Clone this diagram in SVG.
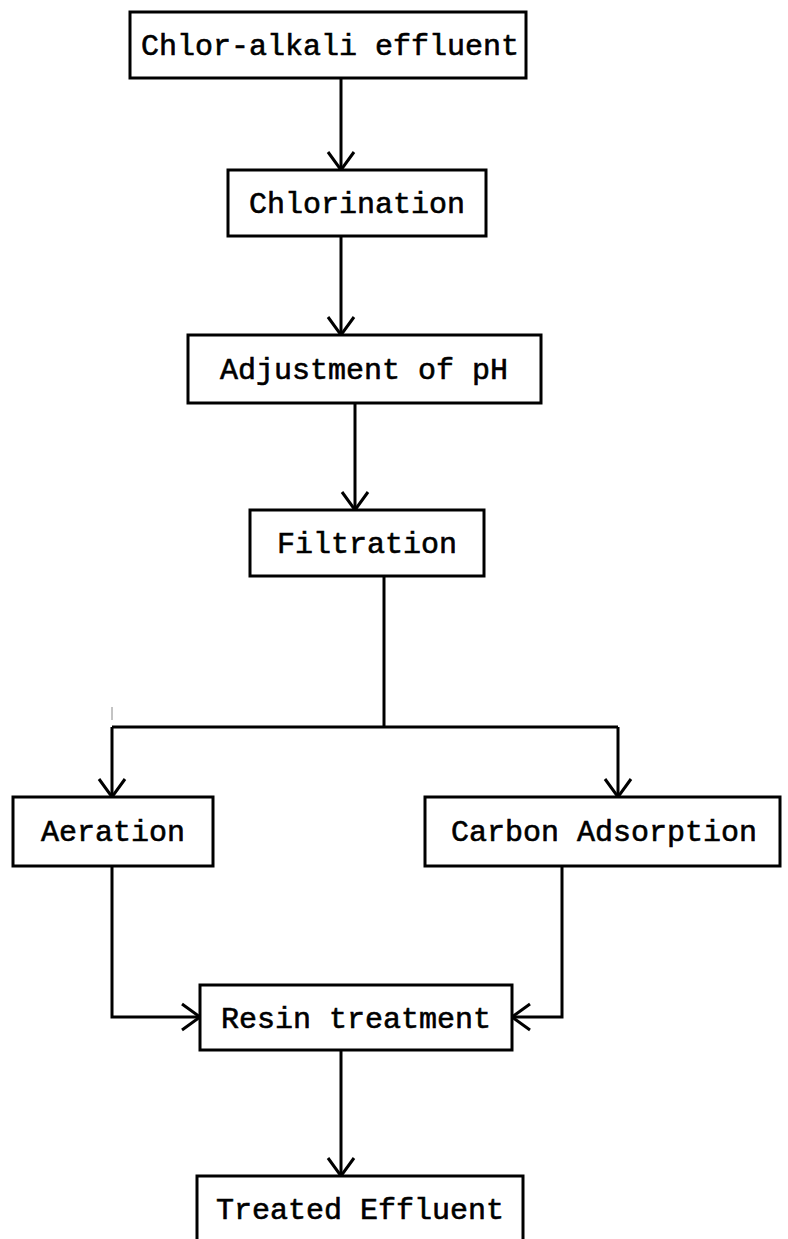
<svg xmlns="http://www.w3.org/2000/svg" width="788" height="1239" viewBox="0 0 788 1239">
<style>
.box{fill:#fff;stroke:#000;stroke-width:3}
.lbl{font-family:"Liberation Mono","Courier New",monospace;font-size:30px;fill:#000;text-anchor:middle;stroke:#000;stroke-width:0.6}
.con{fill:none;stroke:#000;stroke-width:3}
</style>
<defs>
<marker id="ah" viewBox="-22 -16 26 32" refX="0" refY="0" markerWidth="26" markerHeight="32" orient="auto" markerUnits="userSpaceOnUse">
<path d="M-18,-13 L0,0 L-18,13" fill="none" stroke="#000" stroke-width="3"/>
</marker>
</defs>
<rect width="788" height="1239" fill="#fff"/>
<g id="connectors">
<path class="con" d="M341,78 V170" marker-end="url(#ah)"/>
<path class="con" d="M341,236 V335" marker-end="url(#ah)"/>
<path class="con" d="M355,403 V510" marker-end="url(#ah)"/>
<path class="con" d="M384,576 V727"/>
<path class="con" d="M112,727 H618"/>
<path class="con" d="M112,727 V797" marker-end="url(#ah)"/>
<path class="con" d="M618,727 V797" marker-end="url(#ah)"/>
<path class="con" d="M112,866 V1017 H200" marker-end="url(#ah)"/>
<path class="con" d="M562,866 V1017 H512" marker-end="url(#ah)"/>
<path class="con" d="M341,1050 V1176" marker-end="url(#ah)"/>
<path d="M112,707 V720" stroke="#888" stroke-width="1"/>
</g>
<g id="n1"><rect class="box" x="130" y="12" width="396" height="66"/><text class="lbl" x="330" y="55">Chlor-alkali effluent</text></g>
<g id="n2"><rect class="box" x="228" y="170" width="258" height="66"/><text class="lbl" x="357" y="213">Chlorination</text></g>
<g id="n3"><rect class="box" x="188" y="335" width="353" height="68"/><text class="lbl" x="364" y="379">Adjustment of pH</text></g>
<g id="n4"><rect class="box" x="250" y="510" width="234" height="66"/><text class="lbl" x="367" y="553">Filtration</text></g>
<g id="n5"><rect class="box" x="13" y="797" width="200" height="69"/><text class="lbl" x="113" y="841">Aeration</text></g>
<g id="n6"><rect class="box" x="425" y="797" width="355" height="69"/><text class="lbl" x="604" y="841">Carbon Adsorption</text></g>
<g id="n7"><rect class="box" x="200" y="985" width="312" height="65"/><text class="lbl" x="356" y="1028">Resin treatment</text></g>
<g id="n8"><rect class="box" x="197" y="1176" width="326" height="70"/><text class="lbl" x="360" y="1219">Treated Effluent</text></g>
</svg>
